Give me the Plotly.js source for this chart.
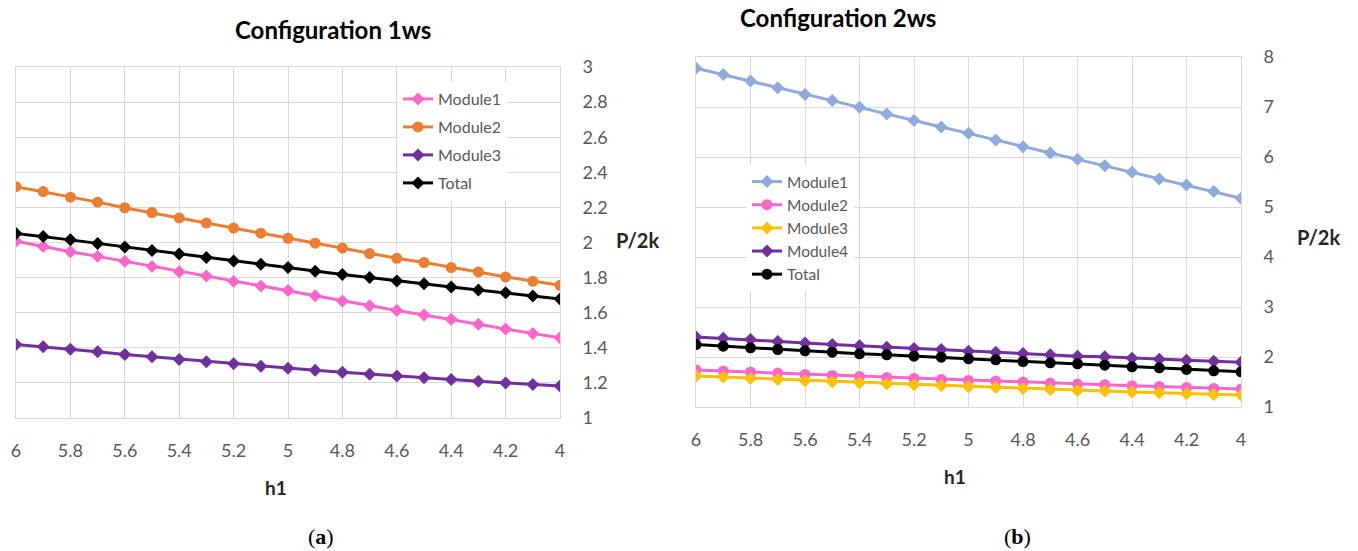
<!DOCTYPE html>
<html>
<head>
<meta charset="utf-8">
<script src="https://cdn.plot.ly/plotly-3.0.1.min.js"></script>
<style>html,body{margin:0;padding:0;background:#fff;}#chart{width:1358px;height:551px;}</style>
</head>
<body>
<div id="chart"></div>
<script>
// ---- data ----
const h1 = [6, 5.9, 5.8, 5.7, 5.6, 5.5, 5.4, 5.3, 5.2, 5.1, 5, 4.9, 4.8, 4.7, 4.6, 4.5, 4.4, 4.3, 4.2, 4.1, 4];

// Configuration 1ws
const c1Module1 = [2.008, 1.977, 1.947, 1.921, 1.893, 1.863, 1.834, 1.809, 1.778, 1.752, 1.726, 1.697, 1.667, 1.639, 1.613, 1.587, 1.562, 1.534, 1.507, 1.482, 1.457];
const c1Module2 = [2.318, 2.290, 2.258, 2.230, 2.198, 2.171, 2.140, 2.111, 2.082, 2.053, 2.024, 1.996, 1.968, 1.937, 1.910, 1.886, 1.857, 1.832, 1.804, 1.779, 1.756];
const c1Module3 = [1.419, 1.406, 1.392, 1.377, 1.362, 1.349, 1.333, 1.320, 1.309, 1.295, 1.284, 1.272, 1.261, 1.250, 1.240, 1.230, 1.219, 1.209, 1.200, 1.191, 1.183];
const c1Total   = [2.051, 2.034, 2.015, 1.995, 1.975, 1.954, 1.934, 1.914, 1.895, 1.876, 1.857, 1.836, 1.818, 1.800, 1.781, 1.765, 1.747, 1.729, 1.713, 1.695, 1.678];

// Configuration 2ws
const c2Module1 = [7.777, 7.649, 7.520, 7.385, 7.250, 7.128, 6.993, 6.858, 6.730, 6.601, 6.473, 6.338, 6.203, 6.081, 5.953, 5.824, 5.696, 5.561, 5.439, 5.311, 5.176];
const c2Module2 = [1.738, 1.718, 1.698, 1.678, 1.651, 1.631, 1.611, 1.591, 1.571, 1.551, 1.532, 1.518, 1.498, 1.478, 1.458, 1.445, 1.425, 1.412, 1.392, 1.372, 1.359];
const c2Module3 = [1.618, 1.598, 1.571, 1.551, 1.525, 1.505, 1.485, 1.465, 1.445, 1.425, 1.405, 1.392, 1.372, 1.352, 1.332, 1.319, 1.299, 1.286, 1.266, 1.252, 1.239];
const c2Module4 = [2.402, 2.375, 2.349, 2.309, 2.282, 2.249, 2.223, 2.196, 2.169, 2.150, 2.116, 2.096, 2.070, 2.043, 2.017, 2.003, 1.977, 1.957, 1.937, 1.917, 1.897];
const c2Total   = [2.249, 2.216, 2.183, 2.150, 2.123, 2.096, 2.063, 2.043, 2.017, 1.997, 1.963, 1.944, 1.910, 1.884, 1.864, 1.837, 1.804, 1.784, 1.751, 1.724, 1.704];

const names1 = ['Module1', 'Module2', 'Module3', 'Total'];
const names2 = ['Module1', 'Module2', 'Module3', 'Module4', 'Total'];

// ---- styles ----
const FONT = 'Lato, "Liberation Sans", Arial, sans-serif';
const SERIF = '"Liberation Serif", "DejaVu Serif", serif';
const W = 1358, H = 551;
const px = v => v / W;
const py = v => 1 - v / H;

function tr(y, name, color, symbol, xa, ya, leg, msize, grp) {
  const t = {
    x: h1, y: y, name: name, type: 'scatter', mode: 'lines+markers',
    xaxis: xa, yaxis: ya, legend: leg,
    line: {color: color, width: 3},
    marker: {color: color, symbol: symbol, size: msize}
  };
  if (grp) t.legendgroup = grp;
  return t;
}

const traces = [
  tr(c1Module1, names1[0], '#FF66CC', 'diamond', 'x', 'y', 'legend', 10, 'g1'),
  tr(c1Module2, names1[1], '#ED7D31', 'circle', 'x', 'y', 'legend', 11, 'g2'),
  tr(c1Module3, names1[2], '#7030A0', 'diamond', 'x', 'y', 'legend', 10, 'g3'),
  tr(c1Total,   names1[3], '#000000', 'diamond', 'x', 'y', 'legend', 10, 'g4'),
  tr(c2Module1, names2[0], '#8FAADC', 'diamond', 'x2', 'y2', 'legend2', 10),
  tr(c2Module2, names2[1], '#FF66CC', 'circle', 'x2', 'y2', 'legend2', 11),
  tr(c2Module3, names2[2], '#FFC000', 'diamond', 'x2', 'y2', 'legend2', 10),
  tr(c2Module4, names2[3], '#7030A0', 'diamond', 'x2', 'y2', 'legend2', 10),
  tr(c2Total,   names2[4], '#000000', 'circle', 'x2', 'y2', 'legend2', 11)
];

const GRID = '#d9d9d9';
const TICKC = '#595959';

function xax(dom, anchor) {
  return {
    domain: dom, anchor: anchor, range: [6, 4], dtick: 0.2, tick0: 4,
    showgrid: true, gridcolor: GRID, gridwidth: 1, zeroline: false,
    showline: true, linecolor: GRID, mirror: true,
    ticks: '', ticklabelstandoff: 16,
    tickfont: {family: FONT, size: 18, color: TICKC}
  };
}
function yax(dom, anchor, range, dtick) {
  return {
    domain: dom, anchor: anchor, range: range, dtick: dtick, side: 'right',
    showgrid: true, gridcolor: GRID, gridwidth: 1, zeroline: false,
    showline: true, linecolor: GRID, mirror: true,
    ticks: '', ticklabelstandoff: 18,
    tickfont: {family: FONT, size: 18, color: TICKC}
  };
}

function ann(text, x, y, size, family, color) {
  return {text: text, x: px(x), y: py(y), xref: 'paper', yref: 'paper',
    showarrow: false, xanchor: 'center', yanchor: 'middle',
    font: {family: family || FONT, size: size, color: color || '#000'}};
}

const layout = {
  width: W, height: H,
  margin: {l: 0, r: 0, t: 0, b: 0},
  paper_bgcolor: '#fff', plot_bgcolor: '#fff',
  showlegend: true,
  xaxis: xax([px(16), px(560)], 'y'),
  yaxis: yax([py(418), py(67)], 'x', [1, 3], 0.2),
  xaxis2: xax([px(696), px(1241)], 'y2'),
  yaxis2: yax([py(407), py(57)], 'x2', [1, 8], 1),
  legend: {
    x: px(398), y: py(82), xanchor: 'left', yanchor: 'top',
    bgcolor: '#fff', borderwidth: 0, itemwidth: 30,
    font: {family: FONT, size: 16, color: TICKC}, tracegroupgap: 4.2
  },
  legend2: {
    x: px(747), y: py(165), xanchor: 'left', yanchor: 'top',
    bgcolor: '#fff', borderwidth: 0, itemwidth: 30,
    font: {family: FONT, size: 15.5, color: TICKC}
  },
  annotations: [
    ann('<b>Configuration 1ws</b>', 333, 30, 24),
    ann('<b>Configuration 2ws</b>', 838, 18, 24),
    ann('<b>P/2k</b>', 637, 240, 20, FONT, '#262626'),
    ann('<b>P/2k</b>', 1318, 237, 20, FONT, '#262626'),
    ann('<b>h1</b>', 276, 487, 19, FONT, '#262626'),
    ann('<b>h1</b>', 955, 476, 19, FONT, '#262626'),
    ann('(<b>a</b>)', 321, 536, 22, SERIF),
    ann('(<b>b</b>)', 1017, 536, 22, SERIF)
  ]
};

Plotly.newPlot('chart', traces, layout, {displayModeBar: false, staticPlot: true});
</script>
</body>
</html>
